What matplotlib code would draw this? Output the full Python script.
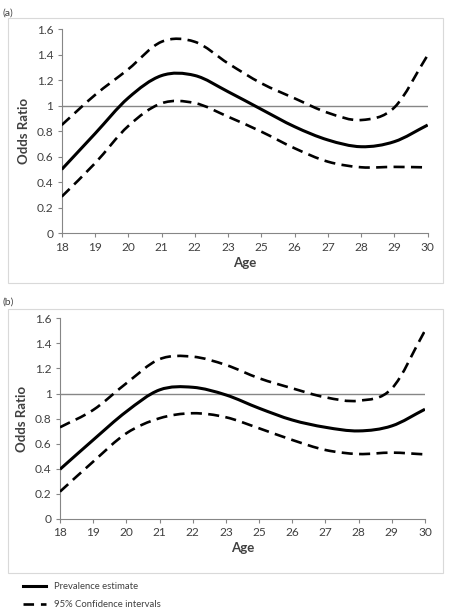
import numpy as np
import matplotlib
matplotlib.use("Agg")
import matplotlib.pyplot as plt
from matplotlib.path import Path
from matplotlib.patches import PathPatch, Rectangle
from matplotlib.lines import Line2D

plt.rcParams['font.family'] = ['Lato', 'DejaVu Sans']

ages = ['18', '19', '20', '21', '22', '23', '25', '26', '27', '28', '29', '30']

a_est = [0.50, 0.78, 1.06, 1.235, 1.236, 1.109, 0.971, 0.835, 0.731, 0.678, 0.718, 0.848]
a_upper = [0.848, 1.083, 1.285, 1.50, 1.50, 1.331, 1.175, 1.057, 0.944, 0.887, 0.986, 1.396]
a_lower = [0.287, 0.548, 0.84, 1.018, 1.02, 0.913, 0.796, 0.666, 0.561, 0.517, 0.52, 0.516]

b_est = [0.396, 0.63, 0.856, 1.029, 1.050, 0.989, 0.883, 0.789, 0.731, 0.702, 0.742, 0.875]
b_upper = [0.731, 0.869, 1.082, 1.274, 1.294, 1.228, 1.122, 1.042, 0.970, 0.943, 1.04, 1.502]
b_lower = [0.218, 0.457, 0.683, 0.803, 0.843, 0.811, 0.723, 0.63, 0.55, 0.518, 0.529, 0.515]

yticks = [0, 0.2, 0.4, 0.6, 0.8, 1, 1.2, 1.4, 1.6]
ylabels = ['0', '0.2', '0.4', '0.6', '0.8', '1', '1.2', '1.4', '1.6']

TXT = '#404040'
GRID = '#868686'
DASH = (0, (4.2, 2.4))


def smooth_path(x, y):
    # catmull-rom style smoothing like excel "smoothed line"
    p = np.column_stack([x, y]).astype(float)
    ext = np.vstack([p[0] - (p[1] - p[0]), p, p[-1] + (p[-1] - p[-2])])
    verts = [tuple(p[0])]
    codes = [Path.MOVETO]
    for i in range(1, len(ext) - 2):
        p0, p1, p2, p3 = ext[i - 1], ext[i], ext[i + 1], ext[i + 2]
        c1 = p1 + (p2 - p0) / 6.0
        c2 = p2 - (p3 - p1) / 6.0
        verts += [tuple(c1), tuple(c2), tuple(p2)]
        codes += [Path.CURVE4] * 3
    return Path(verts, codes)


def draw_panel(fig, rect, frame, est, upper, lower, tag, tagpos):
    fig.patches.append(Rectangle((frame[0], frame[1]), frame[2], frame[3],
                                 transform=fig.transFigure, fill=False,
                                 edgecolor='#d9d9d9', lw=0.8))
    fig.text(tagpos[0], tagpos[1], tag, fontsize=7.5, color=TXT, va='center')
    ax = fig.add_axes(rect)
    x = np.arange(len(ages))
    ax.axhline(1, color=GRID, lw=1.0, zorder=1)
    ax.add_patch(PathPatch(smooth_path(x, est), fill=False, color='black',
                           lw=2.2, capstyle='butt', zorder=3))
    for s in (upper, lower):
        ax.add_patch(PathPatch(smooth_path(x, s), fill=False, color='black',
                               lw=1.9, linestyle=DASH,
                               capstyle='butt', zorder=3))
    ax.set_xlim(0, len(ages) - 1)
    ax.set_ylim(0, 1.6)
    ax.set_xticks(x)
    ax.set_xticklabels(ages)
    ax.set_yticks(yticks)
    ax.set_yticklabels(ylabels)
    for sp in ('top', 'right'):
        ax.spines[sp].set_visible(False)
    for sp in ('left', 'bottom'):
        ax.spines[sp].set_color(GRID)
        ax.spines[sp].set_linewidth(0.8)
    ax.tick_params(colors=GRID, labelcolor=TXT, labelsize=8.6, length=3,
                   width=0.8, pad=3)
    ax.set_xlabel('Age', fontsize=9.5, fontweight='bold', color=TXT, labelpad=3)
    ax.set_ylabel('Odds Ratio', fontsize=9.5, fontweight='bold', color=TXT,
                  labelpad=5)
    ax.patch.set_alpha(0)
    return ax


fig = plt.figure(figsize=(4.51, 6.16), dpi=100)

draw_panel(fig, [0.1368, 0.6213, 0.8115, 0.3316],
           [0.0185, 0.5410, 0.9630, 0.4293],
           a_est, a_upper, a_lower, '(a)', (0.006, 0.979))
draw_panel(fig, [0.1330, 0.1575, 0.8093, 0.3258],
           [0.0185, 0.0703, 0.9630, 0.4275],
           b_est, b_upper, b_lower, '(b)', (0.006, 0.510))

h1 = Line2D([], [], color='black', lw=2.2)
h2 = Line2D([], [], color='black', lw=1.9, linestyle=(0, (4.0, 2.6)))
fig.legend([h1, h2], ['Prevalence estimate', '95% Confidence intervals'],
           loc='upper left', bbox_to_anchor=(0.040, 0.063), frameon=False,
           fontsize=6.8, handlelength=2.45, handletextpad=0.85,
           labelspacing=1.0, labelcolor=TXT, borderpad=0)

fig.savefig('out.png', dpi=100)
